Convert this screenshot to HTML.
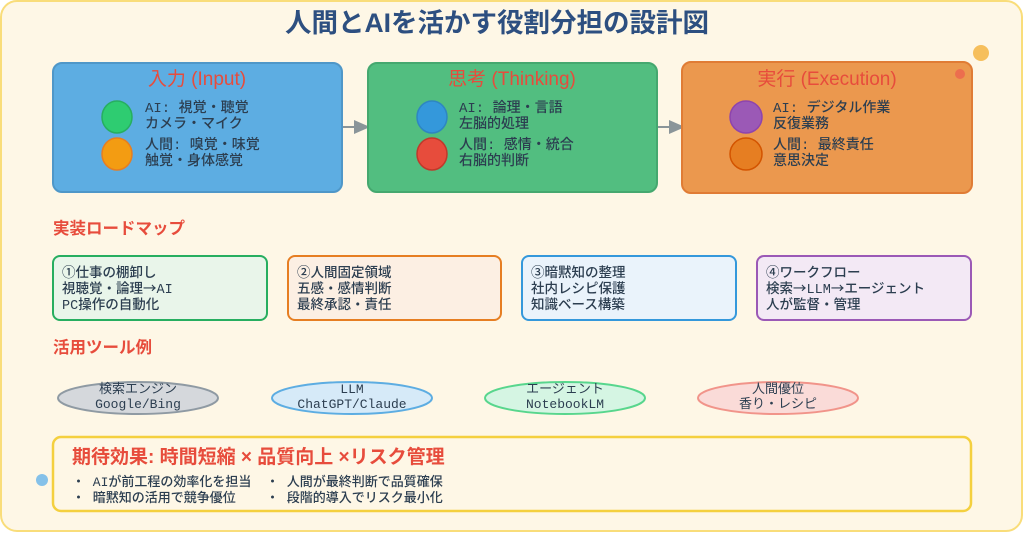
<!DOCTYPE html>
<html><head><meta charset="utf-8"><style>
html,body{margin:0;padding:0;background:#fff;}
svg{display:block;}
text{font-family:"Liberation Sans","Noto Sans CJK JP",sans-serif;}
.m{font-family:"Liberation Mono","Noto Sans CJK JP",monospace;}
</style></head><body>
<svg width="1024" height="533" viewBox="0 0 1024 533" xmlns="http://www.w3.org/2000/svg">
<rect x="1" y="1" width="1021" height="530" rx="16" fill="#fef7e6" stroke="#f9dd7a" stroke-width="2"/>
<text x="497" y="32" text-anchor="middle" font-size="26.5" font-weight="bold" fill="#2d4f80">人間とAIを活かす役割分担の設計図</text>
<circle cx="981" cy="53" r="8" fill="#f6bf5c"/>
<line x1="342" y1="127" x2="358" y2="127" stroke="#8a9599" stroke-width="2"/>
<polygon points="354,120 370,127 354,134" fill="#8a9599"/>
<line x1="657" y1="127" x2="673" y2="127" stroke="#8a9599" stroke-width="2"/>
<polygon points="669,120 685,127 669,134" fill="#8a9599"/>
<rect x="53" y="63" width="289" height="129" rx="9" fill="#5dade2" stroke="#4f97c8" stroke-width="2"/>
<rect x="368" y="63" width="289" height="129" rx="9" fill="#52be80" stroke="#45a86f" stroke-width="2"/>
<rect x="682" y="62" width="290" height="131" rx="9" fill="#eb984e" stroke="#e07c35" stroke-width="2"/>
<circle cx="960" cy="74" r="5" fill="#ec6e4e"/>
<text x="197" y="85" text-anchor="middle" font-size="19" fill="#e74c3c">入力 (Input)</text>
<text x="512" y="85" text-anchor="middle" font-size="19" fill="#e74c3c">思考 (Thinking)</text>
<text x="827" y="85" text-anchor="middle" font-size="19" fill="#e74c3c">実行 (Execution)</text>
<g stroke-width="1.5">
<ellipse cx="117" cy="117" rx="15" ry="16" fill="#2ecc71" stroke="#27ae60"/>
<ellipse cx="117" cy="154" rx="15" ry="16" fill="#f39c12" stroke="#e67e22"/>
<ellipse cx="432" cy="117" rx="15" ry="16" fill="#3498db" stroke="#2e86c1"/>
<ellipse cx="432" cy="154" rx="15" ry="16" fill="#e74c3c" stroke="#c0392b"/>
<ellipse cx="746" cy="117" rx="16" ry="16" fill="#9b59b6" stroke="#8e44ad"/>
<ellipse cx="746" cy="154" rx="16" ry="16" fill="#e67e22" stroke="#d35400"/>
</g>
<g font-size="14" fill="#2c3e50" font-weight="500">
<text class="m" x="145" y="112">AI: 視覚・聴覚</text>
<text class="m" x="145" y="128">カメラ・マイク</text>
<text class="m" x="145" y="149">人間: 嗅覚・味覚</text>
<text class="m" x="145" y="165">触覚・身体感覚</text>
<text class="m" x="459" y="112">AI: 論理・言語</text>
<text class="m" x="459" y="128">左脳的処理</text>
<text class="m" x="459" y="149">人間: 感情・統合</text>
<text class="m" x="459" y="165">右脳的判断</text>
<text class="m" x="773" y="112">AI: デジタル作業</text>
<text class="m" x="773" y="128">反復業務</text>
<text class="m" x="773" y="149">人間: 最終責任</text>
<text class="m" x="773" y="165">意思決定</text>
</g>
<text x="53" y="234" font-size="16.5" font-weight="bold" fill="#e74c3c">実装ロードマップ</text>
<rect x="53" y="256" width="214" height="64" rx="7" fill="#e9f5ea" stroke="#27ae60" stroke-width="2"/>
<rect x="288" y="256" width="213" height="64" rx="7" fill="#fcefe3" stroke="#e67e22" stroke-width="2"/>
<rect x="522" y="256" width="214" height="64" rx="7" fill="#eaf3fb" stroke="#3498db" stroke-width="2"/>
<rect x="757" y="256" width="214" height="64" rx="7" fill="#f3e9f5" stroke="#9b59b6" stroke-width="2"/>
<g font-size="13.5" fill="#2c3e50" font-weight="500">
<text class="m" x="62" y="277">①仕事の棚卸し</text>
<text class="m" x="62" y="293">視聴覚・論理<tspan font-family="Noto Sans CJK JP">→</tspan>AI</text>
<text class="m" x="62" y="309">PC操作の自動化</text>
<text class="m" x="297" y="277">②人間固定領域</text>
<text class="m" x="297" y="293">五感・感情判断</text>
<text class="m" x="297" y="309">最終承認・責任</text>
<text class="m" x="531" y="277">③暗黙知の整理</text>
<text class="m" x="531" y="293">社内レシピ保護</text>
<text class="m" x="531" y="309">知識ベース構築</text>
<text class="m" x="766" y="277">④ワークフロー</text>
<text class="m" x="766" y="293">検索<tspan font-family="Noto Sans CJK JP">→</tspan>LLM<tspan font-family="Noto Sans CJK JP">→</tspan>エージェント</text>
<text class="m" x="766" y="309">人が監督・管理</text>
</g>
<text x="53" y="353" font-size="16.5" font-weight="bold" fill="#e74c3c">活用ツール例</text>
<ellipse cx="138" cy="398" rx="80" ry="16" fill="#d5d8dc" stroke="#8f9aa3" stroke-width="2"/>
<ellipse cx="352" cy="398" rx="80" ry="16" fill="#d6eaf8" stroke="#5dade2" stroke-width="2"/>
<ellipse cx="565" cy="398" rx="80" ry="16" fill="#d5f5e3" stroke="#58d68d" stroke-width="2"/>
<ellipse cx="778" cy="398" rx="80" ry="16" fill="#fadbd8" stroke="#f1948a" stroke-width="2"/>
<g font-size="13" fill="#2c3e50" text-anchor="middle">
<text class="m" x="138" y="393">検索エンジン</text>
<text class="m" x="138" y="408">Google/Bing</text>
<text class="m" x="352" y="393">LLM</text>
<text class="m" x="352" y="408">ChatGPT/Claude</text>
<text class="m" x="565" y="393">エージェント</text>
<text class="m" x="565" y="408">NotebookLM</text>
<text class="m" x="778" y="393">人間優位</text>
<text class="m" x="778" y="408">香り・レシピ</text>
</g>
<rect x="53" y="437" width="918" height="74" rx="8" fill="#fef7e6" stroke="#f4d03f" stroke-width="2.5"/>
<circle cx="42" cy="480" r="6" fill="#85c1e9"/>
<text x="72" y="463" font-size="19" font-weight="bold" fill="#e74c3c">期待効果: 時間短縮 × 品質向上 ×リスク管理</text>
<g font-size="13" fill="#2c3e50" font-weight="500">
<text class="m" x="72" y="486">・ AIが前工程の効率化を担当</text>
<text class="m" x="72" y="502">・ 暗黙知の活用で競争優位</text>
<text class="m" x="266" y="486">・ 人間が最終判断で品質確保</text>
<text class="m" x="266" y="502">・ 段階的導入でリスク最小化</text>
</g>
</svg>
</body></html>
